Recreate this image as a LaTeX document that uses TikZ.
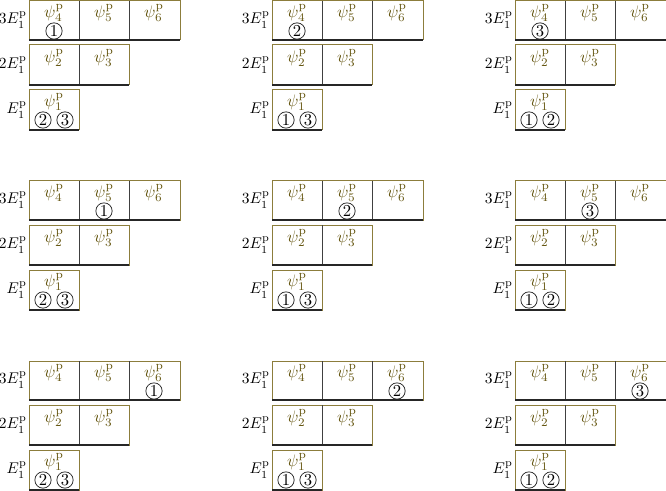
\documentclass[tikz,border=0pt]{standalone}
\begin{document}
\begin{tikzpicture}[x=0.6pt,y=-0.6pt,
  boxline/.style={draw=boxol,line width=0.6pt},
  divline/.style={draw=black!75,line width=0.5pt},
  baseline/.style={draw=black!85,line width=1.1pt},
  psilbl/.style={text=psicol,inner sep=0pt},
  lvl/.style={anchor=east,inner sep=0pt,scale=0.93},
  numc/.style={circle,draw=black!85,line width=0.45pt,minimum size=9.8pt,inner sep=0pt}]
\definecolor{boxol}{RGB}{140,125,60}
\definecolor{psicol}{RGB}{100,85,15}
\useasboundingbox (0,0) rectangle (666,491);
\foreach \r in {0,1,2}{
 \foreach \c in {0,1,2}{
  \begin{scope}[shift={(\c*243,\r*180)}]
   % 3E row
   \draw[boxline] (29,1) rectangle (180,40);
   \draw[divline] (79,1) -- (79,40) (129,1) -- (129,40);
   \draw[baseline] (29,40) -- (180,40);
   % 2E row
   \draw[boxline] (29,45) rectangle (129,85);
   \draw[divline] (79,45) -- (79,85);
   \draw[baseline] (29,85) -- (129,85);
   % E row
   \draw[boxline] (29,90) rectangle (79,130);
   \draw[baseline] (29,130) -- (79,130);
   % level labels
   \node[lvl] (l3-\r\c) at (27,20) {$3E_1^{\mathrm{p}}$};
   \node[lvl] (l2-\r\c) at (27,65) {$2E_1^{\mathrm{p}}$};
   \node[lvl] (l1-\r\c) at (27,110) {$E_1^{\mathrm{p}}$};
   % psi labels
   \node[psilbl] (s4-\r\c) at (54,13) {$\psi_4^{\mathrm{p}}$};
   \node[psilbl] (s5-\r\c) at (104,13) {$\psi_5^{\mathrm{p}}$};
   \node[psilbl] (s6-\r\c) at (154,13) {$\psi_6^{\mathrm{p}}$};
   \node[psilbl] (s2-\r\c) at (54,58) {$\psi_2^{\mathrm{p}}$};
   \node[psilbl] (s3-\r\c) at (104,58) {$\psi_3^{\mathrm{p}}$};
   \node[psilbl] (s1-\r\c) at (54,102) {$\psi_1^{\mathrm{p}}$};
   % circled numbers
   \pgfmathtruncatemacro{\na}{\c+1}
   \pgfmathtruncatemacro{\nb}{\c==0 ? 2 : 1}
   \pgfmathtruncatemacro{\nc}{\c==2 ? 2 : 3}
   \node[numc] (ca-\r\c) at (54+\r*50,31) {\na};
   \node[numc] (cb-\r\c) at (43,120) {\nb};
   \node[numc] (cc-\r\c) at (65,120) {\nc};
  \end{scope}
 }
}
\end{tikzpicture}
\end{document}
